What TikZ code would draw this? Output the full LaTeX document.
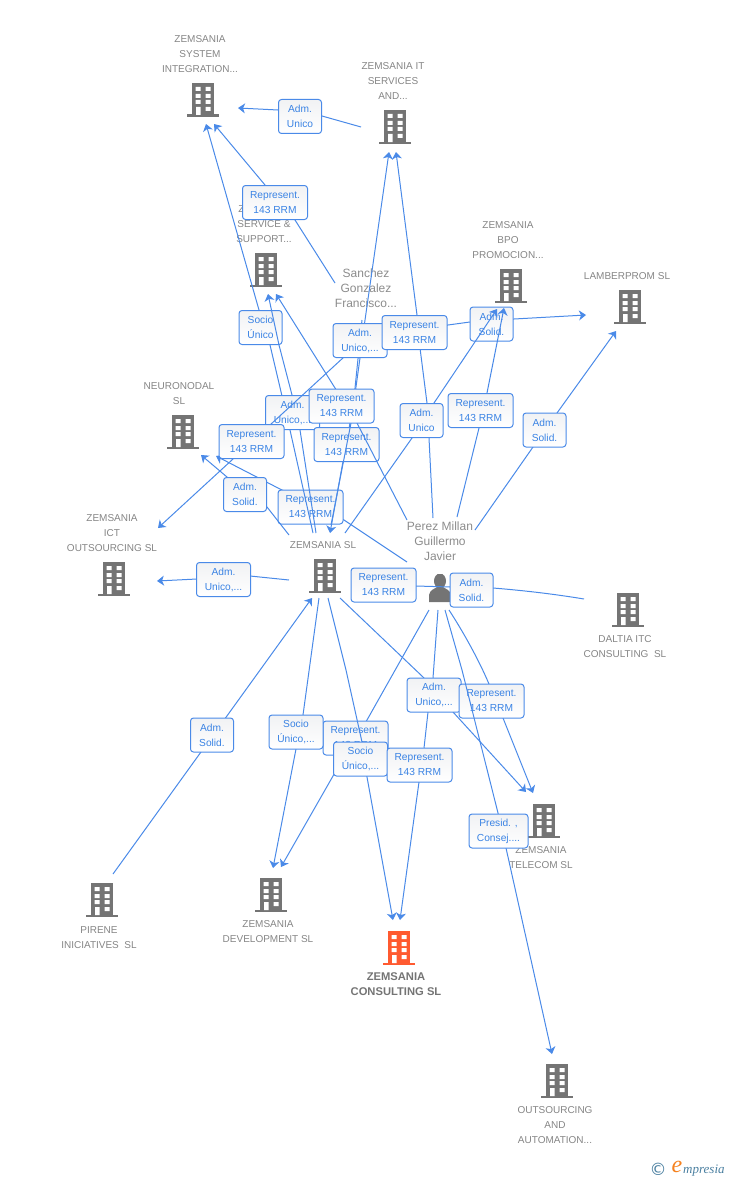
\documentclass[tikz,border=0pt]{standalone}
\usepackage{fontspec}
\setmainfont{Liberation Sans}
\newfontfamily\logofont{Liberation Serif}
\newfontfamily\dejavu{DejaVu Sans}
\usetikzlibrary{arrows.meta}
\definecolor{linkblue}{HTML}{4A8AE8}
\definecolor{tagblue}{HTML}{3A83E4}
\definecolor{icongray}{HTML}{747474}
\definecolor{labelgray}{HTML}{858585}
\definecolor{personlabel}{HTML}{8C8C8C}
\definecolor{mainorange}{HTML}{FF5A30}
\definecolor{tagshade}{HTML}{F1F2F4}
\definecolor{logoblue}{HTML}{4A7FA0}
\definecolor{logoorange}{HTML}{F58220}
\tikzset{
  x=1pt,y=-1pt,
  bld/.style={minimum width=32pt,minimum height=34pt,inner sep=0pt,
    path picture={
      \begin{scope}[shift={(path picture bounding box.center)}]
        \fill[#1] (-11,-17) rectangle (11,15);
        \fill[#1] (-16,14.5) rectangle (16,17);
        \fill[white] (-7.5,-13) rectangle (-2.5,-9) (2.5,-13) rectangle (7.5,-9)
          (-7.5,-6) rectangle (-2.5,-2) (2.5,-6) rectangle (7.5,-2)
          (-7.5,0) rectangle (-2.5,4) (2.5,0) rectangle (7.5,4)
          (-7,7) rectangle (-2.5,15) (2.5,7) rectangle (7.5,11);
      \end{scope}}},
  blabel/.style={align=center,font=\fontsize{10}{15}\selectfont,text=labelgray,inner sep=0pt},
  plabel/.style={align=center,font=\fontsize{12}{15}\selectfont,text=personlabel,inner sep=0pt},
  mlabel/.style={align=center,font=\fontsize{11.2}{15}\selectfont\bfseries,text=icongray,inner sep=0pt},
  link/.style={draw=linkblue,line width=1pt,line join=round},
  tipped/.style={link,-{Stealth[length=7pt,width=10pt,inset=2pt]}},
  tag/.style={draw=linkblue,line width=1pt,rounded corners=3pt,top color=tagshade,bottom color=white,
    minimum height=34pt,inner sep=0pt,align=center,text=tagblue,
    font=\fontsize{10.2}{15}\selectfont},
  tagA/.style={tag,minimum width=43pt},
  tagU/.style={tag,minimum width=54pt},
  tagR/.style={tag,minimum width=65pt},
  tagP/.style={tag,minimum width=59pt},
}
\begin{document}
\begin{tikzpicture}
\useasboundingbox (0,0) rectangle (728,1180);
% buildings
\node[bld=icongray] (sysint) at (203,100) {};
\node[bld=icongray] (zit) at (395,127) {};
\node[bld=icongray] (service) at (266,270) {};
\node[bld=icongray] (bpo) at (511,286) {};
\node[bld=icongray] (lamber) at (630,307) {};
\node[bld=icongray] (neuro) at (183,432) {};
\node[bld=icongray] (ict) at (114,579) {};
\node[bld=icongray] (zs) at (325,576) {};
\node[bld=icongray] (daltia) at (628,610) {};
\node[bld=icongray] (telecom) at (544,821) {};
\node[bld=icongray] (pirene) at (102,900) {};
\node[bld=icongray] (zdev) at (271,895) {};
\node[bld=mainorange] (zcons) at (399,948) {};
\node[bld=icongray] (outs) at (557,1081) {};
% labels
\node[blabel] (lsysint) at (200,54) {ZEMSANIA\\SYSTEM\\INTEGRATION...};
\node[blabel] (lzit) at (393,81) {ZEMSANIA IT\\SERVICES\\AND...};
\node[blabel] (lservice) at (264,224) {ZEMSANIA\\SERVICE \&\\SUPPORT...};
\node[blabel] (lbpo) at (508,240) {ZEMSANIA\\BPO\\PROMOCION...};
\node[blabel] (llamber) at (627,276) {LAMBERPROM SL};
\node[blabel] (lneuro) at (179,393.5) {NEURONODAL\\SL};
\node[blabel] (lict) at (112,533) {ZEMSANIA\\ICT\\OUTSOURCING SL};
\node[blabel] (lzs) at (323,545) {ZEMSANIA SL};
\node[blabel] (ldaltia) at (625,646.5) {DALTIA ITC\\CONSULTING\ \ SL};
\node[blabel] (ltelecom) at (541,857.5) {ZEMSANIA\\TELECOM SL};
\node[blabel] (lpirene) at (99,937.5) {PIRENE\\INICIATIVES\ \ SL};
\node[blabel] (lzdev) at (268,931.5) {ZEMSANIA\\DEVELOPMENT SL};
\node[mlabel] (lzcons) at (396,984.5) {ZEMSANIA\\CONSULTING SL};
\node[blabel] (louts) at (555,1125) {OUTSOURCING\\AND\\AUTOMATION...};
\node[plabel] (sanchez) at (366,288) {Sanchez\\Gonzalez\\Francisco...};
\node[plabel] (perezname) at (440,541) {Perez Millan\\Guillermo\\Javier};
% person
\node[minimum width=22pt,minimum height=28pt,inner sep=0pt,
  path picture={\begin{scope}[shift={(path picture bounding box.center)}]
    \fill[icongray] (0,-7) ellipse (6 and 7.5);
    \fill[icongray] (-11,14) -- (-11,7) .. controls (-10,2) and (-6,1) .. (-3,-1) -- (3,-1)
      .. controls (6,1) and (10,2) .. (11,7) -- (11,14) -- cycle;
  \end{scope}}] (perez) at (440,588) {};
% free ends of the connectors
\coordinate (tSysA) at (238,108);
\coordinate (tSysB) at (214,124);
\coordinate (tSysC) at (206,124);
\coordinate (tSerA) at (268,294);
\coordinate (tSerB) at (276,294);
\coordinate (tZitA) at (389,152);
\coordinate (tZitB) at (396,152);
\coordinate (tBpoA) at (497,309);
\coordinate (tBpoB) at (504,308);
\coordinate (tLam) at (586,315);
\coordinate (tLamB) at (616,331);
\coordinate (tNeuA) at (201,455);
\coordinate (tNeuB) at (216,456);
\coordinate (tIctA) at (158,528);
\coordinate (tIctB) at (157,581);
\coordinate (tZsA) at (330,533);
\coordinate (tZsB) at (312,598);
\coordinate (tTelA) at (526,792);
\coordinate (tTelB) at (533,793);
\coordinate (tDevA) at (273,868);
\coordinate (tDevB) at (281,867);
\coordinate (tConA) at (393,920);
\coordinate (tConB) at (400,920);
\coordinate (tOut) at (552,1054);
\coordinate (sSanA) at (335,283);
\coordinate (sSanB) at (362,320);
\coordinate (sSanC) at (366,330);
\coordinate (sSanD) at (420,333);
\coordinate (sZitL) at (361,127);
\coordinate (sPerA) at (407,562);
\coordinate (sPerB) at (407,520);
\coordinate (sPerC) at (433,518);
\coordinate (sPerD) at (457,517);
\coordinate (sPerE) at (475,530);
\coordinate (sPerF) at (450,587);
\coordinate (sPerG) at (429,610);
\coordinate (sPerH) at (438,610);
\coordinate (sPerI) at (449,610);
\coordinate (sPerJ) at (445,610);
\coordinate (sZsA) at (289,535);
\coordinate (sZsB) at (313,533);
\coordinate (sZsC) at (316,533);
\coordinate (sZsD) at (331,525);
\coordinate (sZsE) at (345,533);
\coordinate (sZsF) at (289,580);
\coordinate (sZsG) at (319,598);
\coordinate (sZsH) at (328,598);
\coordinate (sZsI) at (340,598);
\coordinate (sZsJ) at (360,585);
\coordinate (sPir) at (113,874);
\coordinate (eDal) at (584,599);
% connectors, each with its tag, in stacking order
\draw[tipped] (sZitL) -- (322,116) -- (278,110) -- (tSysA) node[tagA] (t01) at (300,116.5) {Adm.\\Unico};
\draw[tipped] (sSanA) -- (295,220) -- (265,185) -- (tSysB) node[tagR] (t02) at (275,202.5) {Represent.\\143 RRM};
\draw[tipped] (sPerA) -- (344,520) -- (278,488) -- (tNeuB) node[tagR] (t03) at (310.5,507) {Represent.\\143 RRM};
\draw[tipped] (sZsA) -- (267,507) -- (227,477) -- (tNeuA) node[tagA] (t04) at (245,494.5) {Adm.\\Solid.};
\draw[tipped] (sZsB) -- (290,430) -- (270,345) -- (259,310) -- (tSysC) node[tag,minimum width=43pt] (t05) at (260.5,327.5) {Socio\\Único};
\draw[tipped] (sZsC) -- (300,430) -- (292,395) -- (279,345) -- (tSerA) node[tagU] (t06) at (292.5,412.5) {Adm.\\Unico,...};
\draw[tipped] (sSanC) -- (344,357) -- (270,425) -- (233,459) -- (tIctA) node[tagR] (t07) at (251.5,441.5) {Represent.\\143 RRM};
\draw[tipped] (sSanB) -- (355,388) -- (350,423) -- (tZsA) node[tagR] (t08) at (346.5,444.5) {Represent.\\143 RRM};
\draw[tipped] (sZsD) -- (351,423) -- (360,358) -- (365,320) -- (tZitA) node[tagU] (t09) at (360,340.5) {Adm.\\Unico,...};
\draw[tipped] (sPerB) -- (357,423) -- (335,388) -- (tSerB) node[tagR] (t10) at (341.5,406) {Represent.\\143 RRM};
\draw[tipped] (sSanD) -- (448,325) -- (470,322) -- (514,319) -- (tLam) node[tagA] (t11) at (491.5,324) {Adm.\\Solid.};
\draw[tipped] (sPerC) -- (429,438) -- (427,403) -- (420,348) -- (417,315) -- (tZitB) node[tagR] (t12) at (414.5,332.5) {Represent.\\143 RRM};
\draw[tipped] (sZsE) -- (412,438) -- (434,403) -- (tBpoA) node[tagA] (t13) at (421.5,420.5) {Adm.\\Unico};
\draw[tipped] (sPerD) -- (479,428) -- (487,393) -- (tBpoB) node[tagR] (t14) at (480.5,410.5) {Represent.\\143 RRM};
\draw[tipped] (sPerE) -- (533,447) -- (557,413) -- (tLamB) node[tagA] (t15) at (544.5,430) {Adm.\\Solid.};
\draw[link] (sPerF) -- (416,586) -- (sZsJ) node[tagR] (t16) at (383.5,585) {Represent.\\143 RRM};
\draw[link] (perez.east) -- (493,588) .. controls (530,591) and (560,595) .. (eDal) node[tagA] (t17) at (471.5,590) {Adm.\\Solid.};
\draw[tipped] (sZsF) -- (250,576) -- (197,579) -- (tIctB) node[tagU] (t18) at (223.5,579.5) {Adm.\\Unico,...};
\draw[tipped] (sPir) -- (tZsB) node[tagA] (t19) at (212,735) {Adm.\\Solid.};
\draw[tipped] (sPerG) -- (367,720) -- (333,776) -- (tDevB) node[tagR] (t20) at (355.5,738) {Represent.\\143 RRM};
\draw[tipped] (sZsG) -- (303,715) -- (296,749) -- (tDevA) node[tagU] (t21) at (296,732) {Socio\\Único,...};
\draw[tipped] (sZsH) -- (346,670) -- (362,742) -- (367,777) -- (tConA) node[tagU] (t22) at (360.5,759) {Socio\\Único,...};
\draw[tipped] (sPerH) -- (433,678) -- (428,712) -- (424,748) -- (419,782) -- (tConB) node[tagR] (t23) at (419.5,765) {Represent.\\143 RRM};
\draw[tipped] (sZsI) -- (423,677) -- (453,712) -- (tTelA) node[tagU] (t24) at (434,695) {Adm.\\Unico,...};
\draw[tipped] (sPerI) .. controls (462,630) and (478,658) .. (489,684) -- (503,718) -- (tTelB) node[tagR] (t25) at (491.5,701) {Represent.\\143 RRM};
\draw[tipped] (sPerJ) -- (462,670) -- (498,813) -- (506,848) -- (tOut) node[tagP] (t26) at (498.5,831) {Presid. ,\\Consej....};
% logo
\node[inner sep=0pt,text=logoblue,font=\dejavu\fontsize{17}{17}\selectfont] (logoc) at (658,1169) {©};
\node[inner sep=0pt,text=logoorange,font=\logofont\itshape\fontsize{24}{24}\selectfont] (logoe) at (677,1167) {e};
\node[inner sep=0pt,text=logoblue,font=\logofont\itshape\fontsize{13}{13}\selectfont,anchor=west] (logot) at (683,1171) {mpresia};
\end{tikzpicture}
\end{document}
